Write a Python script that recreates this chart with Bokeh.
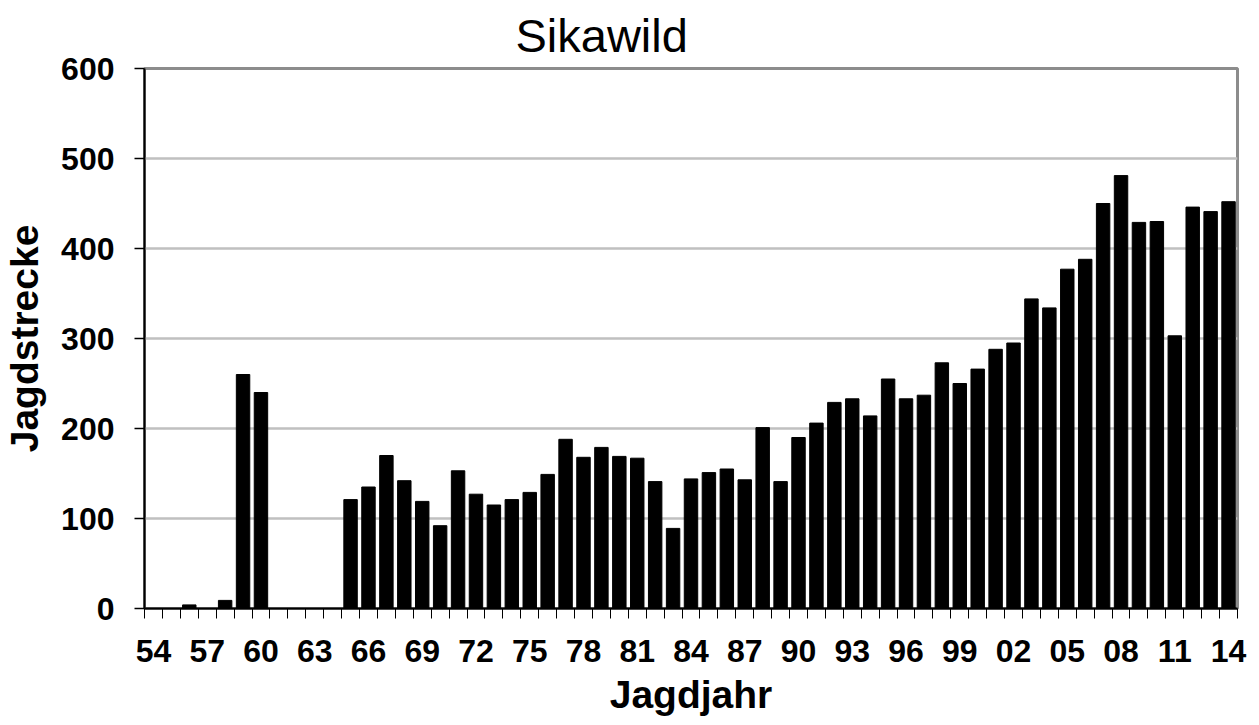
from bokeh.plotting import figure
from bokeh.models import Range1d, FixedTicker, Title
from bokeh.embed import file_html
from bokeh.resources import INLINE

# Hunting years (two-digit labels), 1954 .. 2014
years = ["54", "55", "56", "57", "58", "59", "60", "61", "62", "63",
         "64", "65", "66", "67", "68", "69", "70", "71", "72", "73",
         "74", "75", "76", "77", "78", "79", "80", "81", "82", "83",
         "84", "85", "86", "87", "88", "89", "90", "91", "92", "93",
         "94", "95", "96", "97", "98", "99", "00", "01", "02", "03",
         "04", "05", "06", "07", "08", "09", "10", "11", "12", "13", "14"]

# Jagdstrecke (harvest) per year
strecke = [0, 0, 4, 0, 9, 260, 240, 0, 0, 0,
           0, 121, 135, 170, 142, 119, 92, 153, 127, 115,
           121, 129, 149, 188, 168, 179, 169, 167, 141, 89,
           144, 151, 155, 143, 201, 141, 190, 206, 229, 233,
           214, 255, 233, 237, 273, 250, 266, 288, 295, 344,
           334, 377, 388, 450, 481, 429, 430, 303, 446, 441, 452]

y_ticks = [0, 100, 200, 300, 400, 500, 600]
label_every = 3

FONT = "Liberation Sans"
n = len(years)
xpos = list(range(n))

p = figure(frame_width=1093, frame_height=540,
           x_range=Range1d(-0.5, n - 0.5), y_range=Range1d(0, 600),
           output_backend="svg", toolbar_location=None,
           min_border_left=137, min_border_right=15,
           min_border_top=60, min_border_bottom=100)

p.title = Title(text="Sikawild", align="left", offset=371,
                text_font_size="47px", text_font=FONT,
                text_font_style="normal", text_color="black", standoff=13)

p.vbar(x=xpos, top=strecke, width=0.75, bottom=0,
       fill_color="black", line_color="black", line_width=1)

# frame
p.outline_line_color = "#8c8c8c"
p.outline_line_width = 3
p.background_fill_color = "white"
p.border_fill_color = "white"

# grids
p.xgrid.grid_line_color = None
p.ygrid.grid_line_color = "#c0c0c0"
p.ygrid.grid_line_width = 2.5
p.ygrid.ticker = FixedTicker(ticks=y_ticks)

# y axis
ya = p.yaxis[0]
ya.ticker = FixedTicker(ticks=y_ticks)
ya.axis_line_color = "black"
ya.axis_line_width = 2
ya.major_tick_line_color = "black"
ya.major_tick_line_width = 1.5
ya.major_tick_out = 10
ya.major_tick_in = 0
ya.minor_tick_line_color = None
ya.major_label_text_font = FONT
ya.major_label_text_font_style = "bold"
ya.major_label_text_font_size = "32px"
ya.major_label_text_color = "black"
ya.major_label_standoff = 20
ya.axis_label = "Jagdstrecke"
ya.axis_label_text_font = FONT
ya.axis_label_text_font_style = "bold"
ya.axis_label_text_font_size = "39px"
ya.axis_label_text_color = "black"
ya.axis_label_standoff = 12

# x axis: labels at every 3rd year centre, ticks at category boundaries
xa = p.xaxis[0]
label_pos = xpos[::label_every]
xa.ticker = FixedTicker(ticks=label_pos,
                        minor_ticks=[i - 0.5 for i in range(n + 1)])
xa.major_label_overrides = {i: years[i] for i in label_pos}
xa.axis_line_color = "black"
xa.axis_line_width = 2
xa.major_tick_out = 0
xa.major_tick_in = 0
xa.minor_tick_out = 10
xa.minor_tick_in = 0
xa.minor_tick_line_color = "black"
xa.minor_tick_line_width = 1
xa.major_label_text_font = FONT
xa.major_label_text_font_style = "bold"
xa.major_label_text_font_size = "32px"
xa.major_label_text_color = "black"
xa.major_label_standoff = 21
xa.axis_label = "Jagdjahr"
xa.axis_label_text_font = FONT
xa.axis_label_text_font_style = "bold"
xa.axis_label_text_font_size = "39px"
xa.axis_label_text_color = "black"
xa.axis_label_standoff = 8

open("out.html", "w").write(file_html(p, INLINE))
